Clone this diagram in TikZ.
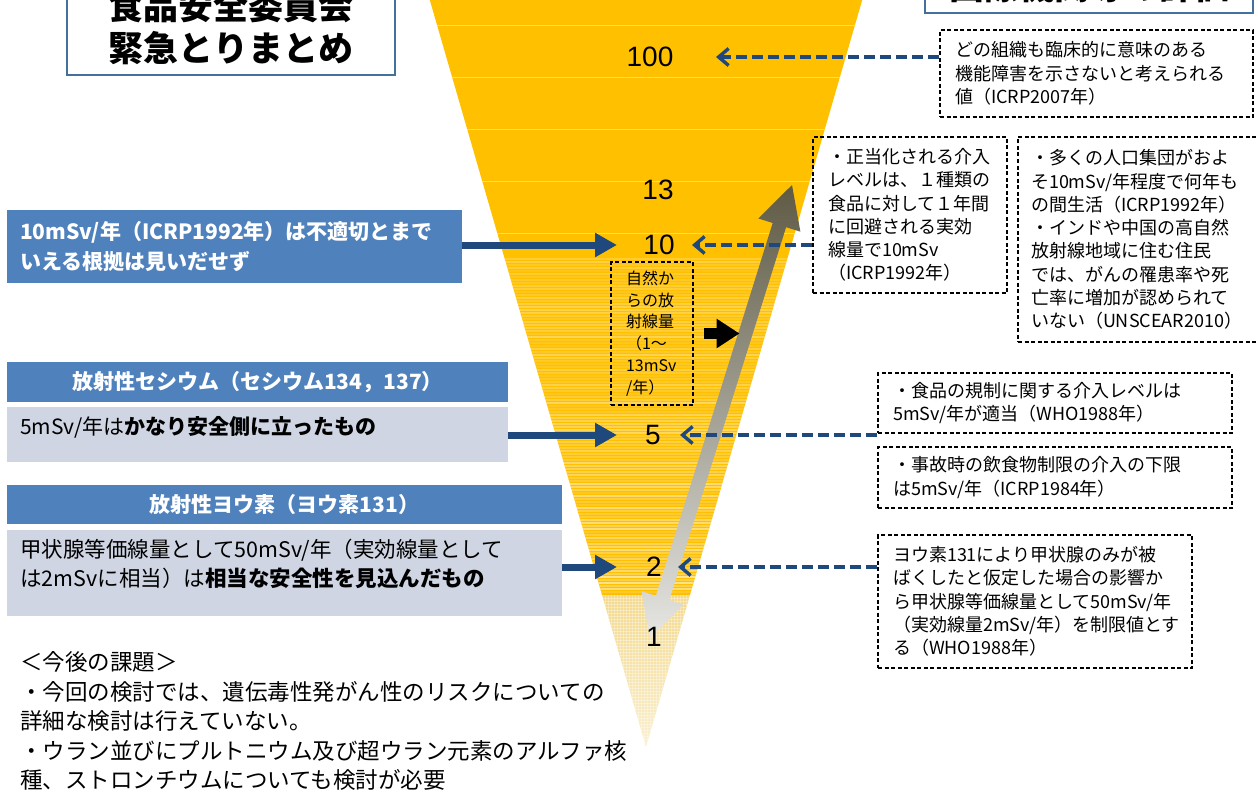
\documentclass[tikz,border=0pt]{standalone}
\usepackage{fontspec}
\setmainfont{Noto Sans CJK JP}
\newfontfamily\numfont{Liberation Sans}
\usetikzlibrary{arrows.meta}

\definecolor{gold}{HTML}{FFC000}
\definecolor{palegold}{HTML}{F3D98C}
\definecolor{hdrblue}{HTML}{4F81BD}
\definecolor{bodygray}{RGB}{207,213,227}
\definecolor{arrowblue}{HTML}{1F497D}
\definecolor{frameblue}{HTML}{41719C}
\definecolor{arrowdark}{HTML}{5E5A44}
\definecolor{arrowmid}{HTML}{A09E92}
\definecolor{arrowlight}{HTML}{E6E6E3}

\tikzset{
  hdr/.style={fill=hdrblue, text=white, inner sep=0pt, font=\bfseries\fontsize{21}{26}\selectfont},
  bodybox/.style={fill=bodygray, inner sep=0pt},
  notebox/.style={draw=black, line width=1.1pt, dash pattern=on 4pt off 2.5pt, align=left,
    inner xsep=15pt, inner ysep=0pt, font=\fontsize{18}{23.3}\selectfont},
  titlebox/.style={draw=frameblue, line width=2pt, fill=white, minimum width=328pt,
    align=center, font=\bfseries\fontsize{35}{42}\selectfont},
  numlabel/.style={font=\numfont\fontsize{28}{28}\selectfont, inner sep=0pt},
  solidarrow/.style={arrowblue, line width=7pt, -{Triangle[length=22pt,width=23pt]}},
  dasharrow/.style={arrowblue, line width=3.4pt, dash pattern=on 11pt off 5pt,
    -{Straight Barb[length=10pt,width=17pt]}},
}

\begin{document}
\begin{tikzpicture}[x=1pt,y=-1pt]
    \useasboundingbox (0,0) rectangle (1258,792);
    \clip (0,0) rectangle (1258,792);

    %%%%%%%%%% Funnel %%%%%%%%%%
    \begin{scope}
        \clip (424,-20) -- (868,-20) -- (646,747) -- cycle;
        \fill[gold] (400,-20) rectangle (900,595);
        \foreach \y in {25,77,129,181,233}
            \draw[white, opacity=.45, line width=.8pt] (400,\y) -- (900,\y);
        \pgfmathsetseed{11}
        \foreach \y in {259,262,...,592}{
            \pgfmathsetmacro\op{(0.15+0.45*rnd)*(0.45+0.55*(\y-259)/336)}
            \draw[white, opacity=\op, line width=1.5pt] (400,\y) -- (900,\y);
        }
        \shade[top color=palegold, bottom color=palegold!40!white] (400,595) rectangle (900,750);
        \foreach \y in {598,601,...,747}
            \draw[white, opacity=.35, line width=.6pt] (400,\y) -- (900,\y);
        \foreach \x in {560,563,...,740}
            \draw[white, opacity=.3, line width=.6pt] (\x,595) -- (\x,750);
    \end{scope}

    %%%%%%%%%% Range arrow %%%%%%%%%%
    \shade[top color=arrowdark, middle color=arrowmid, bottom color=arrowlight]
        (792,185) -- (800.4,231.7) -- (786.1,227.2) -- (669.3,600.0) -- (683.6,604.5)
        -- (650,638) -- (641.6,591.3) -- (655.9,595.8) -- (772.7,223.0) -- (758.4,218.5) -- cycle;

    %%%%%%%%%% Levels %%%%%%%%%%
    \node[numlabel] (n100) at (650,57) {100};
    \node[numlabel] (n13) at (658,190) {13};
    \node[numlabel] (n10) at (659,245) {10};
    \node[numlabel] (n5) at (653,435) {5};
    \node[numlabel] (n2) at (654,567) {2};
    \node[numlabel] (n1) at (654,637) {1};

    \node[notebox, font=\fontsize{16}{21.8}\selectfont, text width=52pt, minimum height=143pt] (nature) at (652,333.5)
        {自然か\\らの放\\射線量\\（1～\\13mSv\\/年）};
    \draw[line width=11pt, -{Triangle[length=23pt,width=28pt]}] ([xshift=10pt]nature.east) -- ++(36,0);

    %%%%%%%%%% Titles %%%%%%%%%%
    \node[titlebox, minimum height=95pt] (title) at (231,27.5) {食品安全委員会\\緊急とりまとめ};
    \node[titlebox, minimum height=53pt] (evaltitle) at (1089,-13.5) {国際機関等の評価};

    %%%%%%%%%% Left side %%%%%%%%%%
    \node[hdr, minimum width=455pt, minimum height=73pt, text width=429pt, align=left, inner xsep=13pt,
        font=\bfseries\fontsize{21}{30}\selectfont] (claim10) at (234.5,246.5)
        {10mSv/年（ICRP1992年）は不適切とまで\\いえる根拠は見いだせず};

    \node[hdr, minimum width=501pt, minimum height=40pt] (cshead) at (257.5,382) {放射性セシウム（セシウム134，137）};
    \node[bodybox, minimum width=501pt, minimum height=55pt] (csbody) at (257.5,434.5) {};
    \node[anchor=west, inner sep=0pt, font=\fontsize{21}{26}\selectfont] (cstext) at (20,427)
        {5mSv/年は\textbf{かなり安全側に立ったもの}};

    \node[hdr, minimum width=555pt, minimum height=39pt] (iohead) at (284.5,504.5) {放射性ヨウ素（ヨウ素131）};
    \node[bodybox, minimum width=555pt, minimum height=86pt] (iobody) at (284.5,573) {};
    \node[anchor=west, inner sep=0pt, align=left, font=\fontsize{21.5}{28.5}\selectfont] (iotext) at (20,564)
        {甲状腺等価線量として50mSv/年（実効線量として\\は2mSvに相当）は\textbf{相当な安全性を見込んだもの}};

    \node[anchor=west, inner sep=0pt, align=left, font=\fontsize{22.5}{29.5}\selectfont] (issues) at (20,721)
        {＜今後の課題＞\\・今回の検討では、遺伝毒性発がん性のリスクについての\\詳細な検討は行えていない。\\・ウラン並びにプルトニウム及び超ウラン元素のアルファ核\\種、ストロンチウムについても検討が必要};

    %%%%%%%%%% Right side %%%%%%%%%%
    \node[notebox, text width=283pt, minimum height=87pt] (icrp07) at (1096.5,73.5)
        {どの組織も臨床的に意味のある\\機能障害を示さないと考えられる\\値（ICRP2007年）};
    \node[notebox, text width=164pt, minimum height=156pt] (icrp92a) at (910,215)
        {・正当化される介入\\レベルは、１種類の\\食品に対して１年間\\に回避される実効\\線量で10mSv\\（ICRP1992年）};
    \node[notebox, inner xsep=13pt, text width=218pt, minimum height=205pt] (unscear) at (1140,239.5)
        {・多くの人口集団がおよ\\そ10mSv/年程度で何年も\\の間生活（ICRP1992年）\\・インドや中国の高自然\\放射線地域に住む住民\\では、がんの罹患率や死\\亡率に増加が認められて\\いない（UNSCEAR2010）};
    \node[notebox, text width=324pt, minimum height=60pt] (who88a) at (1055,403)
        {・食品の規制に関する介入レベルは\\5mSv/年が適当（WHO1988年）};
    \node[notebox, text width=324pt, minimum height=61pt] (icrp84) at (1055,477.5)
        {・事故時の飲食物制限の介入の下限\\は5mSv/年（ICRP1984年）};
    \node[notebox, text width=284pt, minimum height=133pt] (who88b) at (1035,601.5)
        {ヨウ素131により甲状腺のみが被\\ばくしたと仮定した場合の影響か\\ら甲状腺等価線量として50mSv/年\\（実効線量2mSv/年）を制限値とす\\る（WHO1988年）};

    %%%%%%%%%% Arrows %%%%%%%%%%
    \draw[solidarrow] (claim10.east |- n10) -- ([xshift=-42pt]n10.center);
    \draw[solidarrow] (csbody.east |- n5) -- ([xshift=-36pt]n5.center);
    \draw[solidarrow] (iobody.east |- n2) -- ([xshift=-37pt]n2.center);
    \draw[dasharrow] (icrp07.west |- n100) -- ([xshift=66pt]n100.center);
    \draw[dasharrow] (icrp92a.west |- n10) -- ([xshift=33pt]n10.center);
    \draw[dasharrow] (who88a.west |- n5) -- ([xshift=27pt]n5.center);
    \draw[dasharrow] (who88b.west |- n2) -- ([xshift=24pt]n2.center);
\end{tikzpicture}
\end{document}
